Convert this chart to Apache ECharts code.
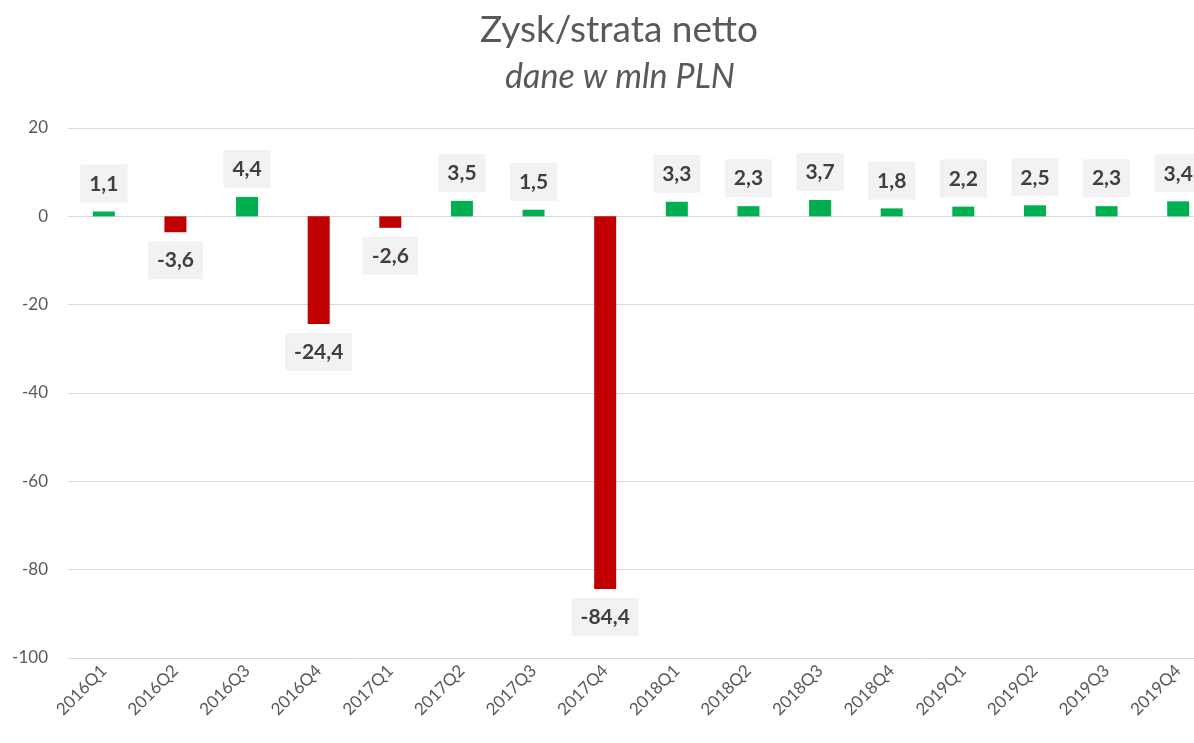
<!DOCTYPE html>
<html>
<head>
<meta charset="utf-8">
<title>Zysk/strata netto</title>
<script src="https://cdn.jsdelivr.net/npm/echarts@6/dist/echarts.min.js"></script>
<style>
	html, body { margin: 0; padding: 0; background: #fff; overflow: hidden; }
	/* wykres szerszy niz okno - prawa krawedz jest ucieta jak w oryginale */
	#chart { width: 1214px; height: 743px; }
</style>
</head>
<body>
<div id="chart"></div>
<script>
// kwartaly
var quarters = ['2016Q1', '2016Q2', '2016Q3', '2016Q4', '2017Q1', '2017Q2', '2017Q3', '2017Q4',
	'2018Q1', '2018Q2', '2018Q3', '2018Q4', '2019Q1', '2019Q2', '2019Q3', '2019Q4'];
// zysk/strata netto, mln PLN
var netResult = [1.1, -3.6, 4.4, -24.4, -2.6, 3.5, 1.5, -84.4, 3.3, 2.3, 3.7, 1.8, 2.2, 2.5, 2.3, 3.4];

var GREEN = '#00b050';
var RED = '#c00000';
var FONT = 'Lato, "Open Sans", sans-serif';

// przecinek zamiast kropki
function fmt(v) {
	return v.toFixed(1).replace('.', ',');
}

var barData = netResult.map(function (v) {
	return {
		value: v,
		itemStyle: { color: v >= 0 ? GREEN : RED },
		label: { position: v >= 0 ? 'top' : 'bottom' }
	};
});

var myChart = echarts.init(document.getElementById('chart'));
myChart.setOption({
	animation: false,
	title: [{
		text: 'Zysk/strata netto',
		left: 614,
		top: 7,
		textAlign: 'center',
		textStyle: { fontFamily: FONT, fontSize: 37, fontWeight: 'normal', color: '#595959' }
	}, {
		text: 'dane w mln PLN',
		left: 615,
		top: 55,
		textAlign: 'center',
		textStyle: { fontFamily: FONT, fontSize: 34, fontStyle: 'italic', fontWeight: 'normal', color: '#595959' }
	}],
	grid: { left: 68, right: 0, top: 128, bottom: 85 },
	xAxis: {
		type: 'category',
		data: quarters,
		axisLine: { show: false, onZero: false },
		axisTick: { show: false },
		axisLabel: {
			rotate: 45,
			margin: 10,
			fontFamily: FONT,
			fontSize: 17,
			color: '#595959'
		}
	},
	yAxis: {
		type: 'value',
		min: -100,
		max: 20,
		interval: 20,
		axisLine: { show: false },
		axisTick: { show: false },
		axisLabel: { margin: 20, fontFamily: FONT, fontSize: 17, color: '#595959' },
		splitLine: { lineStyle: { color: '#d9d9d9', width: 1 } }
	},
	series: [{
		type: 'bar',
		barWidth: 22,
		data: barData,
		label: {
			show: true,
			distance: 9,
			formatter: function (p) { return fmt(p.value); },
			fontFamily: FONT,
			fontSize: 21,
			fontWeight: 'bold',
			color: '#404040',
			backgroundColor: '#f2f2f2',
			padding: [9, 9, 8, 9]
		}
	}]
});
</script>
</body>
</html>
